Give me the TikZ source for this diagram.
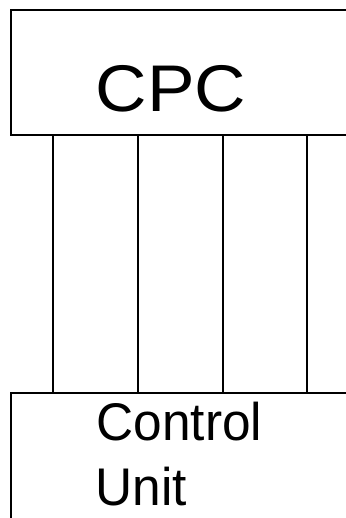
\documentclass[tikz,border=0pt]{standalone}
\usepackage{fontspec}
\setmainfont{Liberation Sans}
\begin{document}
\begin{tikzpicture}[x=1pt,y=-1pt,
  box/.style={draw=black, line width=2pt, rectangle, anchor=north west, inner sep=0pt},
  link/.style={draw=black, line width=1.6pt},
  bigtext/.style={anchor=base west, inner sep=0pt, font=\fontsize{66}{66}\selectfont},
  midtext/.style={anchor=base west, inner sep=0pt, font=\fontsize{53}{53}\selectfont}]
\useasboundingbox (0,0) rectangle (345,518);
\node[box, minimum width=350pt, minimum height=125.5pt] (cpc) at (10,9) {};
\node[box, minimum width=350pt, minimum height=150pt] (cu) at (10,392) {};
\node[bigtext] (cpct) at (95.5,112) {\scalebox{1.08}[1]{CPC}};
\node[midtext] (ctl) at (96.5,440) {\scalebox{0.97}[1]{Control}};
\node[midtext] (unit) at (95.5,505) {\scalebox{0.97}[1]{Unit}};
\foreach \x in {53,138,222.7,306.7}{
  \draw[link] (\x,0 |- cpc.south) -- (\x,0 |- cu.north);
}
\end{tikzpicture}
\end{document}
